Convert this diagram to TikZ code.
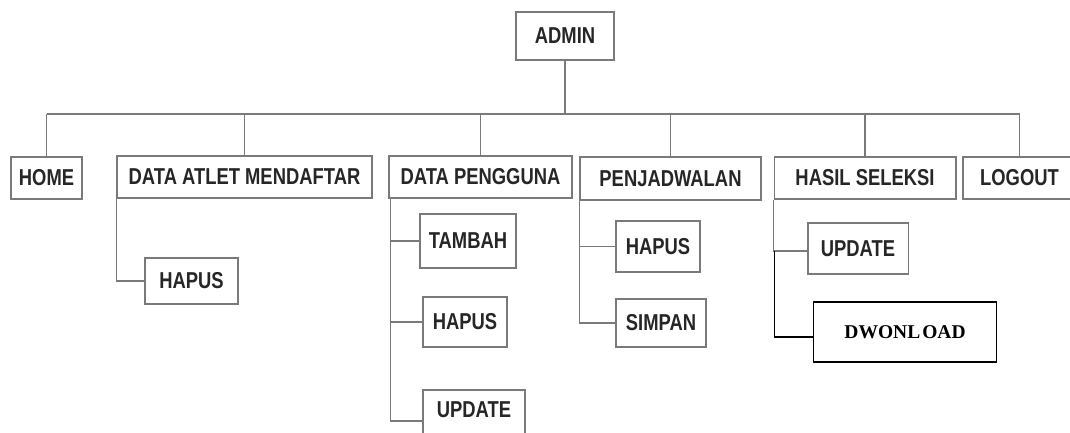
\documentclass[tikz,border=0pt]{standalone}
\usepackage{fontspec}
\newfontfamily\lab[FakeStretch=0.8]{Liberation Sans}
\newfontfamily\tnr{Liberation Serif}
\definecolor{linegray}{HTML}{7A7A7A}
\definecolor{txtgray}{HTML}{262626}
\tikzset{
  box/.style={draw=linegray, line width=1.5pt, inner sep=0pt, fill=white,
    font=\lab\bfseries\fontsize{23}{23}\selectfont, text=txtgray},
  conn/.style={draw=linegray, line width=1.5pt},
  bconn/.style={draw=black, line width=1.3pt},
  bbox/.style={draw=black, line width=1.3pt, inner sep=0pt, fill=white,
    font=\tnr\bfseries\fontsize{19.5}{19.5}\selectfont, text=black}
}
\begin{document}
\begin{tikzpicture}[x=1pt,y=-1pt]
\useasboundingbox (0,0) rectangle (1070,433);
\clip (0,0) rectangle (1070,433);
\fill[white] (0,0) rectangle (1070,433);

% top level
\node[box, minimum width=98pt, minimum height=48pt] (admin) at (565,36) {ADMIN};
\node[box, minimum width=71pt, minimum height=42pt] (home) at (46.5,178) {HOME};
\node[box, minimum width=255pt, minimum height=42pt] (atlet) at (244.5,177) {DATA ATLET MENDAFTAR};
\node[box, minimum width=183pt, minimum height=42pt] (pengguna) at (480.5,177) {DATA PENGGUNA};
\node[box, minimum width=181pt, minimum height=43pt] (jadwal) at (670.5,178.5) {PENJADWALAN};
\node[box, minimum width=181.5pt, minimum height=42pt] (hasil) at (865,178) {HASIL SELEKSI};
\node[box, minimum width=113pt, minimum height=42pt] (logout) at (1019.5,178) {LOGOUT};

% second level
\node[box, minimum width=93pt, minimum height=46pt] (hapusA) at (191.5,281) {HAPUS};
\node[box, minimum width=96pt, minimum height=54pt] (tambah) at (468,241) {TAMBAH};
\node[box, minimum width=84pt, minimum height=50pt] (hapusB) at (465,322) {HAPUS};
\node[box, minimum width=102pt, minimum height=56pt, text depth=16pt] (updateA) at (474,418) {UPDATE};
\node[box, minimum width=84pt, minimum height=51pt] (hapusC) at (658,246.5) {HAPUS};
\node[box, minimum width=90pt, minimum height=48pt] (simpan) at (661,323) {SIMPAN};
\node[box, minimum width=100.5pt, minimum height=51pt] (updateB) at (858,248.5) {UPDATE};
\node[bbox, minimum width=183.5pt, minimum height=60pt] (dwon) at (905,332) {DWONL\kern2pt OAD};

% bus
\coordinate (bus) at (0,114);
\draw[conn] (admin.south) -- (admin.south |- bus);
\draw[conn] (home.north |- bus) -- (logout.north |- bus);
\foreach \n in {home,atlet,pengguna,jadwal,hasil,logout}
  \draw[conn] (\n.north) -- (\n.north |- bus);

% branches
\draw[conn] (atlet.south west) |- (hapusA.west);

\coordinate (pv) at ([xshift=2pt]pengguna.south west);
\draw[conn] (pv) |- ([yshift=-3pt]updateA.west);
\draw[conn] (tambah.west) -- (tambah.west -| pv);
\draw[conn] (hapusB.west) -- (hapusB.west -| pv);

\draw[conn] (jadwal.south west) |- (simpan.west);
\draw[conn] (hapusC.west) -- (hapusC.west -| jadwal.south west);

\draw[conn] (hasil.south west) |- ([yshift=-2.5pt]updateB.west);
\draw[bconn] ([xshift=1pt,yshift=-2.5pt]hasil.south west |- updateB.west) |- ([yshift=-5pt]dwon.west);
\end{tikzpicture}
\end{document}
